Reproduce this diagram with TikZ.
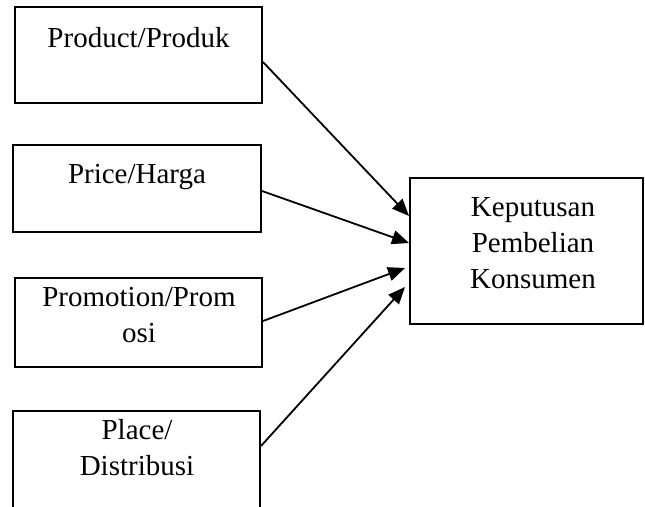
\documentclass[tikz,border=0pt]{standalone}
\usepackage{fontspec}
\setmainfont{Liberation Serif}
\usetikzlibrary{arrows.meta}
\begin{document}
\begin{tikzpicture}[x=1pt,y=-1pt,
  box/.style={draw,line width=2pt,rectangle,inner sep=0pt},
  lbl/.style={align=center,anchor=base,inner sep=0pt,font=\fontsize{29}{36}\selectfont},
  link/.style={line width=1.8pt,-{Triangle[length=17pt,width=14pt]}}]
\clip (0,0) rectangle (645,506);
% left column of factors
\node[box,minimum width=247pt,minimum height=96pt] (prod) at (138.5,55) {};
\node[box,minimum width=248pt,minimum height=87pt] (price) at (137,188.5) {};
\node[box,minimum width=247pt,minimum height=89pt] (promo) at (138.5,322.5) {};
\node[box,minimum width=247pt,minimum height=110pt] (place) at (136.5,466) {};
% decision box
\node[box,minimum width=233pt,minimum height=146pt] (kep) at (526.5,251) {};
% labels (base anchor sits on the last line's baseline)
\node[lbl] (tprod) at (138.5,47) {Product/Produk};
\node[lbl] (tprice) at (137,183) {Price/Harga};
\node[lbl] (tpromo) at (139,342) {Promotion/Prom\\osi};
\node[lbl] (tplace) at (137,475) {Place/\\Distribusi};
\node[lbl] (tkep) at (533,288) {Keputusan\\Pembelian\\Konsumen};
% arrows into the decision box
\draw[link] ([yshift=-7pt]prod.east) -- ([yshift=35pt]kep.west);
\draw[link] ([yshift=-2.5pt]price.east) -- ([yshift=8pt]kep.west);
\draw[link] ([yshift=1.5pt]promo.east) -- ([xshift=-4pt,yshift=-17pt]kep.west);
\draw[link] ([yshift=20pt]place.east) -- ([xshift=-4pt,yshift=-36pt]kep.west);
\end{tikzpicture}
\end{document}
